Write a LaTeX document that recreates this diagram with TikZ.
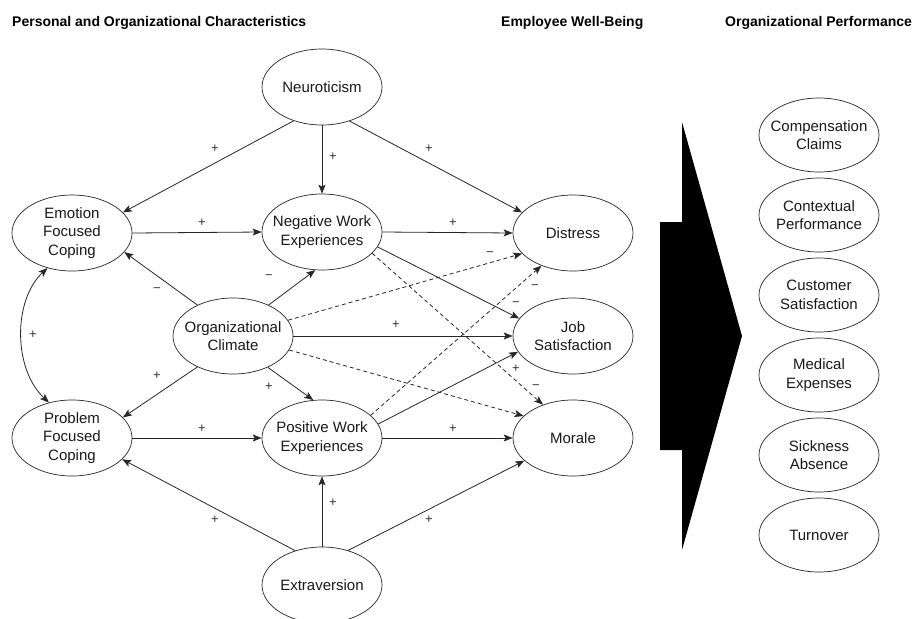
\documentclass[tikz,border=0pt]{standalone}
\usepackage{fontspec}
\setmainfont{Liberation Sans}
\usetikzlibrary{shapes.geometric,arrows.meta}
\begin{document}
\begin{tikzpicture}[x=1pt,y=-1pt,
  ell/.style={ellipse, draw=black!85, line width=0.7pt, minimum width=120pt, minimum height=76pt, inner sep=-25pt, align=center, font=\fontsize{15}{18.5}\selectfont, text=black!90},
  ellr/.style={ell, minimum height=74pt},
  tip/.tip={Stealth[length=9pt,width=7pt,inset=2pt]},
  arr/.style={-tip, line width=0.8pt, draw=black!85},
  darr/.style={arr, dash pattern=on 4pt off 3pt},
  sgn/.style={font=\fontsize{13}{13}\selectfont, inner sep=0pt, text height=0.6em, text depth=0em, text=black!80},
  head/.style={font=\fontsize{14}{16}\selectfont\bfseries, anchor=base west, inner sep=0pt}
]
\useasboundingbox[fill=white] (0,0) rectangle (914,619);

% headings
\node[head] (h1) at (12,26) {Personal and Organizational Characteristics};
\node[head] (h2) at (501,26) {Employee Well-Being};
\node[head] (h3) at (725,26) {Organizational Performance};

% main nodes
\node[ell] (neur) at (322,87) {Neuroticism};
\node[ell] (emo) at (72,233) {Emotion\\Focused\\Coping};
\node[ell] (neg) at (322,232) {Negative Work\\Experiences};
\node[ell] (dis) at (573,233) {Distress};
\node[ell] (org) at (233,336) {Organizational\\Climate};
\node[ell] (job) at (573,336) {Job\\Satisfaction};
\node[ell] (pfc) at (72,438) {Problem\\Focused\\Coping};
\node[ell] (pos) at (322,438) {Positive Work\\Experiences};
\node[ell] (mor) at (573,438) {Morale};
\node[ell] (ext) at (322,585) {Extraversion};

% outcome nodes
\node[ellr] (cc) at (819,135) {Compensation\\Claims};
\node[ellr] (cp) at (819,215) {Contextual\\Performance};
\node[ellr] (cs) at (819,295) {Customer\\Satisfaction};
\node[ellr] (me) at (819,375) {Medical\\Expenses};
\node[ellr] (sa) at (819,455) {Sickness\\Absence};
\node[ellr] (to) at (819,535) {Turnover};

% big arrow
\fill[black] (682,122) -- (742,336) -- (682,550) -- (682,450) -- (660,450) -- (660,222) -- (682,222) -- cycle;

% connectors
\draw[arr] (neur.230) -- (emo.22);
\draw[arr] (neur.south) -- (neg.north);
\draw[arr] (neur.309) -- (dis.158);
\draw[arr] (emo.east) -- (neg.west);
\draw[arr] (neg.east) -- (dis.west);
\draw[arr] (neg.345) -- (job.162);
\draw[darr] (neg.337) -- (mor.132);
\draw[arr] (org.139) -- (emo.340);
\draw[arr] (org.41) -- (neg.260);
\draw[darr] (org.16) -- (dis.202);
\draw[arr] (org.east) -- (job.west);
\draw[darr] (org.346) -- (mor.156);
\draw[arr] (org.221) -- (pfc.22);
\draw[arr] (org.318) -- (pos.103);
\draw[arr] (pfc.east) -- (pos.west);
\draw[arr] (pos.east) -- (mor.west);
\draw[arr] (pos.14) -- (job.196);
\draw[darr] (pos.25) -- (dis.226);
\draw[arr] (ext.128) -- (pfc.337);
\draw[arr] (ext.north) -- (pos.south);
\draw[arr] (ext.53) -- (mor.205);
\draw[tip-tip, line width=0.8pt, draw=black!85] (emo.235) .. controls (13,300) and (13,369) .. (pfc.123);

% signs
\node[sgn] (s1) at (215,149) {+};
\node[sgn] (s2) at (333,157) {+};
\node[sgn] (s3) at (429,149) {+};
\node[sgn] (s4) at (202,223) {+};
\node[sgn] (s5) at (453,223) {+};
\node[sgn] (s6) at (157,289) {−};
\node[sgn] (s7) at (269,276) {−};
\node[sgn] (s8) at (490,253) {−};
\node[sgn] (s9) at (535,286) {−};
\node[sgn] (s10) at (516,303) {−};
\node[sgn] (s11) at (396,325) {+};
\node[sgn] (s12) at (33,335) {+};
\node[sgn] (s13) at (157,376) {+};
\node[sgn] (s14) at (269,387) {+};
\node[sgn] (s15) at (516,369) {+};
\node[sgn] (s16) at (536,386) {−};
\node[sgn] (s17) at (202,429) {+};
\node[sgn] (s18) at (453,429) {+};
\node[sgn] (s19) at (333,503) {+};
\node[sgn] (s20) at (215,520) {+};
\node[sgn] (s21) at (429,520) {+};
\end{tikzpicture}
\end{document}
